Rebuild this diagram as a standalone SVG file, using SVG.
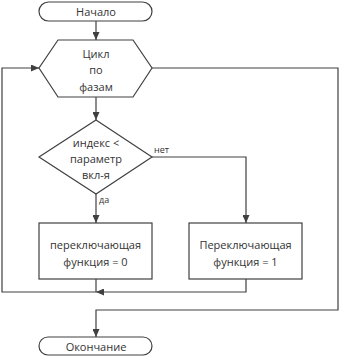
<svg xmlns="http://www.w3.org/2000/svg" width="341" height="356" viewBox="0 0 341 356">
<style>
.s{fill:#ffffff;stroke:#404040;stroke-width:1.2}
.c{fill:none;stroke:#404040;stroke-width:1.2}
.t{font-family:"Open Sans","Liberation Sans",sans-serif;font-size:11px;fill:#333;text-anchor:middle;dominant-baseline:central}
.l{font-family:"Open Sans","Liberation Sans",sans-serif;font-size:9px;fill:#333}
</style>
<defs>
<marker id="a" viewBox="0 0 10 10" refX="10" refY="5" markerWidth="8" markerHeight="7" markerUnits="userSpaceOnUse" orient="auto" preserveAspectRatio="none">
<path d="M0,0 L10,5 L0,10 z" fill="#404040"/>
</marker>
</defs>
<rect width="341" height="356" fill="#fff"/>
<g id="connectors">
<path class="c" d="M96,21 V40" marker-end="url(#a)"/>
<path class="c" d="M96,97 V120" marker-end="url(#a)"/>
<path class="c" d="M96,194 V223" marker-end="url(#a)"/>
<path class="c" d="M152,157 H246 V223" marker-end="url(#a)"/>
<path class="c" d="M96,279 V292"/>
<path class="c" d="M246,279 V292 H96" marker-end="url(#a)"/>
<path class="c" d="M96,292 H2 V68 H39" marker-end="url(#a)"/>
<path class="c" d="M152,68 H338 V310 H96 V337" marker-end="url(#a)"/>
<text class="l" x="154" y="153">нет</text>
<text class="l" x="99" y="203">да</text>
</g>
<g id="start">
<rect class="s" x="39" y="2" width="113" height="19" rx="9.5"/>
<text class="t" x="96" y="11.5">Начало</text>
</g>
<g id="loop">
<polygon class="s" points="58,40 133,40 152,68 133,97 58,97 39,68"/>
<text class="t" x="96" y="53">Цикл</text>
<text class="t" x="96" y="69.5">по</text>
<text class="t" x="96" y="86">фазам</text>
</g>
<g id="decision">
<polygon class="s" points="96,120 152,157 96,194 39,157"/>
<text class="t" x="96" y="142">индекс &lt;</text>
<text class="t" x="96" y="158">параметр</text>
<text class="t" x="96" y="174">вкл-я</text>
</g>
<g id="set0">
<rect class="s" x="39" y="223" width="113" height="56"/>
<text class="t" x="95.5" y="244.5">переключающая</text>
<text class="t" x="95.5" y="261.5">функция = 0</text>
</g>
<g id="set1">
<rect class="s" x="189" y="223" width="113" height="56"/>
<text class="t" x="245.5" y="244.5">Переключающая</text>
<text class="t" x="245.5" y="261.5">функция = 1</text>
</g>
<g id="end">
<rect class="s" x="39" y="337" width="113" height="18" rx="9"/>
<text class="t" x="96" y="346">Окончание</text>
</g>
</svg>
